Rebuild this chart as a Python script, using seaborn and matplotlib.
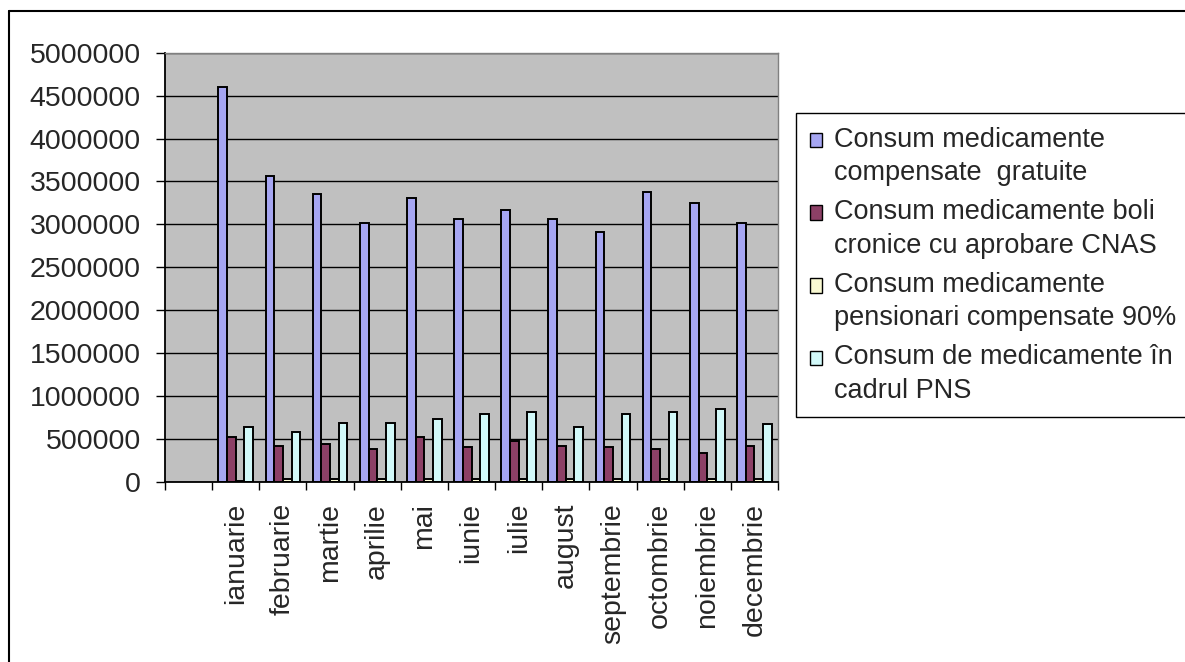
import numpy as np
import pandas as pd
import matplotlib
matplotlib.use("Agg")
import matplotlib.pyplot as plt
from matplotlib.ticker import MultipleLocator, StrMethodFormatter
from matplotlib.lines import Line2D
import seaborn as sns

# Monthly drug consumption by programme (lei)
months = ["ianuarie", "februarie", "martie", "aprilie", "mai", "iunie",
          "iulie", "august", "septembrie", "octombrie", "noiembrie", "decembrie"]

gratuite = [4600000, 3560000, 3350000, 3020000, 3310000, 3060000,
            3165000, 3060000, 2915000, 3375000, 3250000, 3020000]
boli_cronice = [520000, 420000, 440000, 380000, 520000, 405000,
                480000, 420000, 405000, 380000, 340000, 420000]
pensionari = [15000, 38000, 38000, 38000, 38000, 38000,
              38000, 38000, 38000, 38000, 38000, 38000]
pns = [645000, 580000, 690000, 690000, 735000, 795000,
       815000, 645000, 795000, 815000, 855000, 670000]

series_names = [
    "Consum medicamente compensate  gratuite",
    "Consum medicamente boli cronice cu aprobare CNAS",
    "Consum medicamente pensionari compensate 90%",
    "Consum de medicamente în cadrul PNS",
]
legend_labels = [
    "Consum medicamente\ncompensate  gratuite",
    "Consum medicamente boli\ncronice cu aprobare CNAS",
    "Consum medicamente\npensionari compensate 90%",
    "Consum de medicamente în\ncadrul PNS",
]
colors = ["#9999FF", "#993366", "#FFFFCC", "#CCFFFF"]

df = pd.DataFrame({
    "luna": months * 4,
    "serie": np.repeat(series_names, len(months)),
    "valoare": gratuite + boli_cronice + pensionari + pns,
})

sns.set_style("white")
plt.rcParams["font.family"] = ["Liberation Sans", "DejaVu Sans"]
TICK_FS = 20.5
LEG_FS = 19.5

W, H = 1185, 662
fig = plt.figure(figsize=(W / 100, H / 100), dpi=100)
ax = fig.add_axes([165 / W, 1 - 482 / H, (778 - 165) / W, (482 - 52.7) / H])
ax.set_facecolor("#C0C0C0")

order = [""] + months
sns.barplot(data=df, x="luna", y="valoare", hue="serie", order=order,
            hue_order=series_names, palette=colors, width=0.735,
            edgecolor="black", linewidth=1.4, errorbar=None, ax=ax)

ax.set_xlim(-0.5, len(order) - 0.5)
ax.set_ylim(0, 5000000)
ax.yaxis.set_major_locator(MultipleLocator(500000))
ax.yaxis.set_major_formatter(StrMethodFormatter("{x:.0f}"))
ax.yaxis.grid(True, color="black", linewidth=1.0)
ax.set_axisbelow(True)
ax.set_xlabel("")
ax.set_ylabel("")

# category labels at centres, tick marks on the boundaries
ax.set_xticks(range(len(order)))
ax.set_xticklabels(order, rotation=90, fontsize=TICK_FS, va="top", ha="center")
ax.set_xticks(np.arange(-0.5, len(order), 1.0), minor=True)
ax.tick_params(axis="x", which="major", length=0, pad=15)
ax.tick_params(axis="x", which="minor", length=5.8, width=1.0, color="black",
               direction="out", bottom=True)
ax.tick_params(axis="y", which="major", length=6.5, width=1.0, color="black",
               direction="out", left=True, pad=11, labelsize=TICK_FS)

for side in ("left", "bottom"):
    ax.spines[side].set_color("black")
    ax.spines[side].set_linewidth(1.3)
for side in ("top", "right"):
    ax.spines[side].set_visible(True)
    ax.spines[side].set_color("#808080")
    ax.spines[side].set_linewidth(1.0)

handles, _ = ax.get_legend_handles_labels()
if ax.get_legend() is not None:
    ax.get_legend().remove()
leg = fig.legend(handles, legend_labels, loc="upper left",
                 bbox_to_anchor=(796 / W, 1 - 113 / H), bbox_transform=fig.transFigure,
                 borderaxespad=0, frameon=True, fancybox=False, framealpha=1,
                 edgecolor="black", fontsize=LEG_FS, handlelength=0.45, handleheight=0.45,
                 handletextpad=0.47, borderpad=0.5, labelspacing=0.48)
leg.get_frame().set_linewidth(1.0)
for t in leg.get_texts():
    t.set_linespacing(1.38)

# align each swatch with the first line of its label
for h in leg.legend_handles:
    h.set_y(h.get_y() + 12)
    h.set_linewidth(1.0)

# outer chart border
fig.add_artist(Line2D([8.5 / W, 1], [1 - 11 / H, 1 - 11 / H], color="black",
                      linewidth=1.5, transform=fig.transFigure))
fig.add_artist(Line2D([8.5 / W, 8.5 / W], [0, 1 - 11 / H], color="black",
                      linewidth=1.5, transform=fig.transFigure))

fig.savefig("out.png", dpi=100, facecolor="white")
